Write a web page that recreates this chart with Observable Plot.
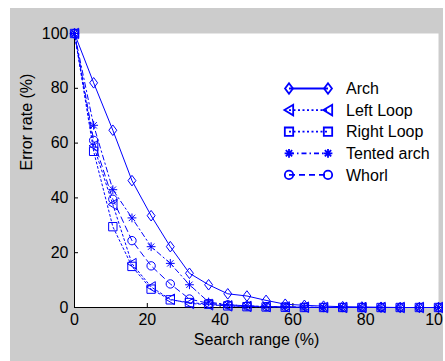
<!DOCTYPE html>
<html><head><meta charset="utf-8">
<script src="https://cdn.jsdelivr.net/npm/d3@7"></script>
<script src="https://cdn.jsdelivr.net/npm/@observablehq/plot@0.6"></script>
<style>
html,body{margin:0;padding:0;background:#fff;}
#fig{position:absolute;left:10px;top:8px;width:433px;height:353px;background:#cccccc;overflow:hidden;}
</style></head><body><div id="fig"></div>
<script>
// ---- data ----
const searchRange = [0, 5.26, 10.53, 15.79, 21.05, 26.32, 31.58, 36.84, 42.11, 47.37, 52.63, 57.89, 63.16, 68.42, 73.68, 78.95, 84.21, 89.47, 94.74, 100];
const seriesNames = ["Arch", "Left Loop", "Right Loop", "Tented arch", "Whorl"];
const arch       = [100, 82, 64.7, 46.3, 33.5, 22.2, 12.5, 8.3, 5, 4.2, 2.6, 1.2, 0.8, 0.5, 0.3, 0.2, 0.1, 0, 0, 0];
const leftLoop   = [100, 59, 37.6, 16, 7.5, 3, 1.5, 1, 0.6, 0.4, 0.3, 0.2, 0.1, 0, 0, 0, 0, 0, 0, 0];
const rightLoop  = [100, 57, 29.5, 15, 6.7, 2.8, 1.8, 1.2, 0.6, 0.3, 0.2, 0.1, 0, 0, 0, 0, 0, 0, 0, 0];
const tentedArch = [100, 66.5, 43, 32.7, 22.2, 16.1, 8.3, 2, 1, 0.6, 0.4, 0.2, 0.1, 0, 0, 0, 0, 0, 0, 0];
const whorl      = [100, 61, 39.5, 24.4, 15.2, 8.6, 3.1, 1.5, 1, 0.6, 0.3, 0.2, 0.1, 0, 0, 0, 0, 0, 0, 0];
const xTicks = [0, 20, 40, 60, 80, 100];
const yTicks = [0, 20, 40, 60, 80, 100];
const xLabel = "Search range (%)";
const yLabel = "Error rate (%)";

// ---- marker shapes (MATLAB-like) ----
const rad = s => Math.sqrt(s / Math.PI);
const symDiamond = {draw(c, s) { const r = rad(s), w = r * 0.9, h = r * 1.2; c.moveTo(0, -h); c.lineTo(w, 0); c.lineTo(0, h); c.lineTo(-w, 0); c.closePath(); }};
const symTriLeft = {draw(c, s) { const r = rad(s); c.moveTo(-r * 1.05, 0); c.lineTo(r * 0.95, -r * 1.2); c.lineTo(r * 0.95, r * 1.2); c.closePath(); }};
const symSquare  = {draw(c, s) { const r = rad(s) * 0.95; c.moveTo(-r, -r); c.lineTo(r, -r); c.lineTo(r, r); c.lineTo(-r, r); c.closePath(); }};
const symStar    = {draw(c, s) { const r = rad(s), d = r * 0.72; c.moveTo(-r, 0); c.lineTo(r, 0); c.moveTo(0, -r); c.lineTo(0, r); c.moveTo(-d, -d); c.lineTo(d, d); c.moveTo(-d, d); c.lineTo(d, -d); }};
const symCircle  = {draw(c, s) { const r = rad(s) * 0.95; c.moveTo(r, 0); c.arc(0, 0, r, 0, 2 * Math.PI); }};

const blue = "#0000ff";
const series = [
  {name: seriesNames[0], values: arch,       symbol: symDiamond, dash: null},
  {name: seriesNames[1], values: leftLoop,   symbol: symTriLeft, dash: "2,2.5"},
  {name: seriesNames[2], values: rightLoop,  symbol: symSquare,  dash: "2,2.5"},
  {name: seriesNames[3], values: tentedArch, symbol: symStar,    dash: "5,3,1.5,3"},
  {name: seriesNames[4], values: whorl,      symbol: symCircle,  dash: "6,4"}
];
const rows = s => searchRange.map((x, i) => ({x, y: s.values[i]}));

const font = "'Liberation Sans', Arial, Helvetica, sans-serif";
const marks = [
  Plot.frame({fill: "white", stroke: null}),
  Plot.axisX(xTicks, {tickSize: -4, tickPadding: 10, fontSize: 16, label: null}),
  Plot.axisY(yTicks, {tickSize: -4, tickPadding: 10, fontSize: 16, label: null}),
  Plot.ruleX([0], {stroke: "black"}),
  Plot.ruleY([0], {stroke: "black"}),
  Plot.text([xLabel], {text: d => d, frameAnchor: "bottom", dy: 37, fontSize: 16}),
  Plot.text([yLabel], {text: d => d, frameAnchor: "left", dx: -48, rotate: -90, fontSize: 16})
];
for (const s of series) {
  marks.push(Plot.line(rows(s), {x: "x", y: "y", stroke: blue, strokeWidth: 1, strokeDasharray: s.dash}));
  marks.push(Plot.dot(rows(s), {x: "x", y: "y", symbol: s.symbol, r: 4.4, stroke: blue, fill: "none", strokeWidth: 1}));
}

const chart = Plot.plot({
  width: 433, height: 353,
  marginLeft: 64, marginRight: 5, marginTop: 25, marginBottom: 54,
  x: {domain: [0, 100]},
  y: {domain: [0, 100]},
  style: {background: "transparent", color: "black", fontFamily: font, fontSize: "16px", overflow: "visible"},
  marks
});

// legend inside the axes
const g = d3.select(chart).append("g").attr("font-family", font).attr("font-size", 16).attr("text-anchor", "start");
series.forEach((s, i) => {
  const y = 80.5 + i * 21.6;
  g.append("line").attr("x1", 279).attr("x2", 318).attr("y1", y).attr("y2", y)
    .attr("stroke", blue).attr("stroke-width", 1.8).attr("stroke-dasharray", s.dash);
  [279, 318].forEach(x => g.append("path")
    .attr("d", d3.symbol(s.symbol, Math.PI * 4.4 * 4.4)())
    .attr("transform", `translate(${x},${y})`)
    .attr("fill", "none").attr("stroke", blue).attr("stroke-width", 1.8));
  g.append("text").attr("x", 336).attr("y", y).attr("dy", "0.35em").attr("text-anchor", "start").attr("fill", "black").text(s.name);
});

document.getElementById("fig").appendChild(chart);
</script></body></html>
